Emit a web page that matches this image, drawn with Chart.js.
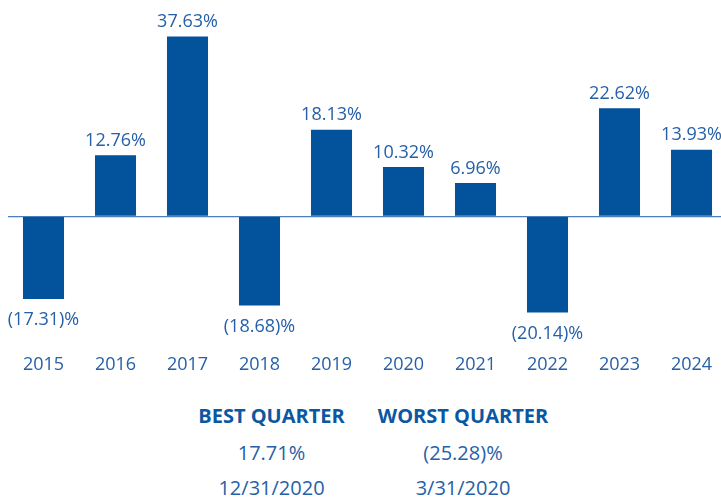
<!DOCTYPE html>
<html>
<head>
<meta charset="utf-8">
<script src="https://cdn.jsdelivr.net/npm/chart.js@4"></script>
<style>
  html, body { margin: 0; padding: 0; background: #fff; overflow: hidden; }
  #wrap { position: relative; width: 721px; height: 498px; overflow: hidden; }
  #box { position: absolute; left: 0; top: 0; width: 730px; height: 385px; }
  .note { position: absolute; transform: translate(-50%, -50%); white-space: nowrap;
          font-family: "Open Sans", sans-serif; font-size: 20px; color: #2560a8; }
  .note.head { font-weight: bold; color: #0b57a2; }
</style>
</head>
<body>
<div id="wrap">
  <div id="box"><canvas id="returns"></canvas></div>
</div>
<script>
var years = ['2015','2016','2017','2018','2019','2020','2021','2022','2023','2024'];
var returns = [-17.31, 12.76, 37.63, -18.68, 18.13, 10.32, 6.96, -20.14, 22.62, 13.93];

var noteHeads = ['BEST QUARTER', 'WORST QUARTER'];
var noteValues = ['17.71%', '(25.28)%'];
var noteDates = ['12/31/2020', '3/31/2020'];

const barColor = '#02529c';
const textColor = '#2560a8';

function fmtPct(v){
    if (v < 0) return '(' + Math.abs(v).toFixed(2) + ')%';
    return v.toFixed(2) + '%';
}

// bottom notes
var noteX = [271.5, 463];
var rows = [[noteHeads, 414.5, 'head'], [noteValues, 452, ''], [noteDates, 487, '']];
var wrap = document.getElementById('wrap');
rows.forEach(function(r){
    r[0].forEach(function(txt, i){
        var d = document.createElement('div');
        d.className = 'note ' + r[2];
        d.textContent = txt;
        d.style.left = noteX[i] + 'px';
        d.style.top = r[1] + 'px';
        wrap.appendChild(d);
    });
});

const valueLabels = {
    id: 'valueLabels',
    afterDatasetsDraw(chart){
        var ctx = chart.ctx;
        var meta = chart.getDatasetMeta(0);
        ctx.save();
        ctx.font = '18px "Open Sans"';
        ctx.fillStyle = textColor;
        ctx.textAlign = 'center';
        ctx.textBaseline = 'middle';
        meta.data.forEach(function(bar, i){
            var v = returns[i];
            var y = v >= 0 ? bar.y - 14.5 : bar.y + 21;
            ctx.fillText(fmtPct(v), bar.x, y);
        });
        ctx.restore();
    }
};

new Chart(document.getElementById('returns'), {
    type: 'bar',
    data: {
        labels: years,
        datasets: [{
            data: returns,
            backgroundColor: barColor,
            borderWidth: 0,
            categoryPercentage: 1,
            barPercentage: 0.57
        }]
    },
    options: {
        responsive: true,
        maintainAspectRatio: false,
        animation: false,
        events: [],
        layout: { padding: { left: 7.5, right: 2.5, top: 10, bottom: 6 } },
        plugins: { legend: { display: false }, tooltip: { enabled: false } },
        scales: {
            x: {
                grid: { display: false, drawTicks: false },
                border: { display: false },
                ticks: {
                    color: textColor,
                    padding: 3,
                    font: { family: 'Open Sans', size: 18 }
                }
            },
            y: {
                min: -28.26,
                max: 43.17,
                ticks: { display: false, stepSize: 10 },
                border: { display: false },
                grid: {
                    drawTicks: false,
                    lineWidth: 1.2,
                    color: function(c){ return c.tick && c.tick.value === 0 ? '#4a7ebd' : 'rgba(0,0,0,0)'; }
                }
            }
        }
    },
    plugins: [valueLabels]
});
</script>
</body>
</html>
